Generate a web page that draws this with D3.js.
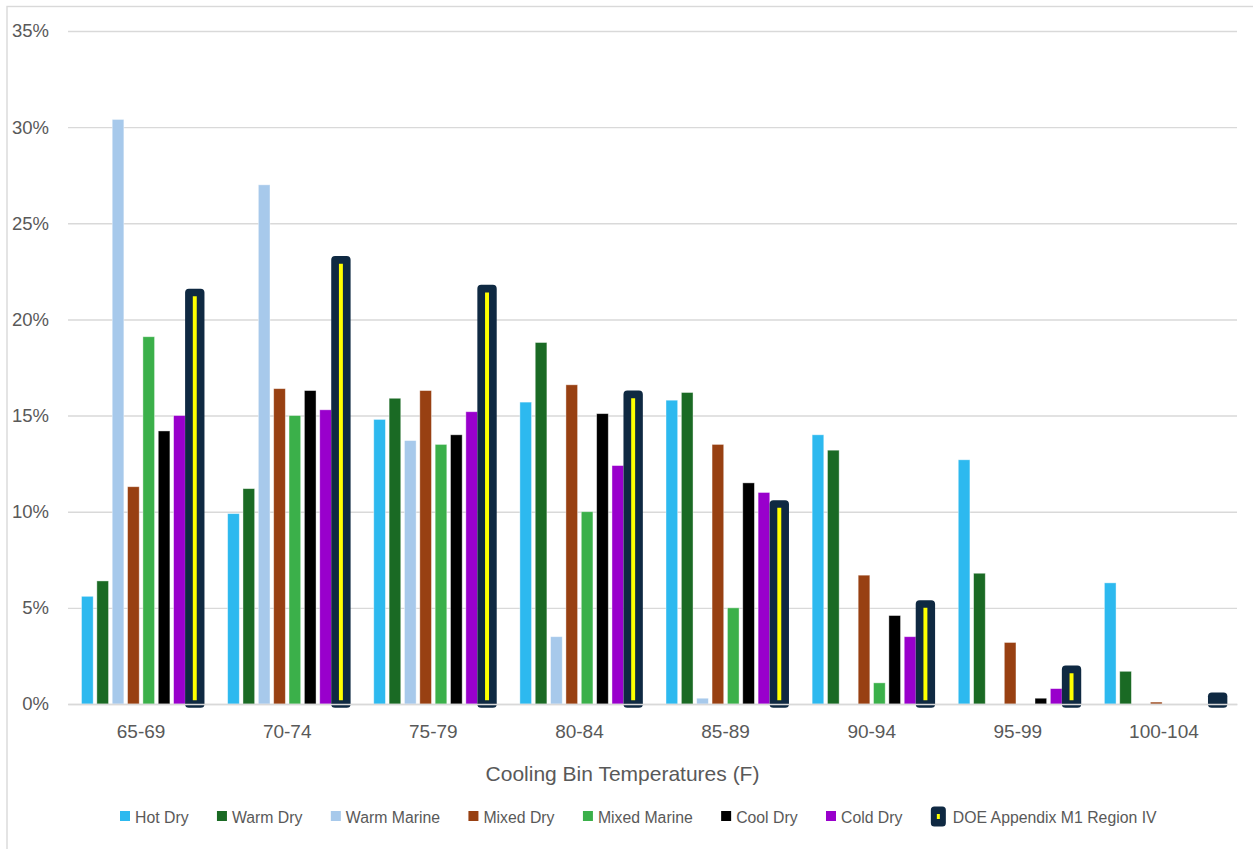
<!DOCTYPE html>
<html>
<head>
<meta charset="utf-8">
<script src="https://cdn.jsdelivr.net/npm/d3@7"></script>
<style>
  html, body { margin: 0; padding: 0; background: #ffffff; }
  svg { display: block; font-family: "Liberation Sans", Arial, sans-serif; }
</style>
</head>
<body>
<svg id="chart" width="1253" height="849"></svg>
<script>
// Share of cooling hours (%) in each temperature bin, by climate region
const categories = ["65-69", "70-74", "75-79", "80-84", "85-89", "90-94", "95-99", "100-104"];
const seriesNames = ["Hot Dry", "Warm Dry", "Warm Marine", "Mixed Dry", "Mixed Marine", "Cool Dry", "Cold Dry", "DOE Appendix M1 Region IV"];

const hotDry      = [5.6, 9.9, 14.8, 15.7, 15.8, 14.0, 12.7, 6.3];
const warmDry     = [6.4, 11.2, 15.9, 18.8, 16.2, 13.2, 6.8, 1.7];
const warmMarine  = [30.4, 27.0, 13.7, 3.5, 0.3, 0, 0, 0];
const mixedDry    = [11.3, 16.4, 16.3, 16.6, 13.5, 6.7, 3.2, 0.1];
const mixedMarine = [19.1, 15.0, 13.5, 10.0, 5.0, 1.1, 0, 0];
const coolDry     = [14.2, 16.3, 14.0, 15.1, 11.5, 4.6, 0.3, 0];
const coldDry     = [15.0, 15.3, 15.2, 12.4, 11.0, 3.5, 0.8, 0];
const doeRegionIV = [21.4, 23.1, 21.6, 16.1, 10.4, 5.2, 1.8, 0.4];

const yTicks = [0, 5, 10, 15, 20, 25, 30, 35];

const seriesValues = [hotDry, warmDry, warmMarine, mixedDry, mixedMarine, coolDry, coldDry, doeRegionIV];
const colors = ["#2db9ef", "#1a6a24", "#a7c9eb", "#984012", "#3bb04a", "#000000", "#9900cc", "#0f2942"];
const accent = "#ffff00";
const textColor = "#595959";
const gridColor = "#d9d9d9";

const svg = d3.select("#chart");

// outer chart frame
svg.append("rect")
  .attr("x", 7).attr("y", 6.5)
  .attr("width", 1300).attr("height", 900)
  .attr("fill", "#ffffff")
  .attr("stroke", gridColor).attr("stroke-width", 1.4);

const plotLeft = 68, plotRight = 1237, plotTop = 31, plotBottom = 704;

const x0 = d3.scaleBand().domain(categories).range([plotLeft, plotRight]);
const x1 = d3.scaleBand().domain(seriesNames).range([0, x0.bandwidth()])
  .paddingInner(0.24).paddingOuter(0.88);
const y = d3.scaleLinear().domain([0, 35]).range([plotBottom, plotTop]);

// value axis with gridlines
const yAxis = svg.append("g")
  .attr("transform", `translate(${plotLeft},0)`)
  .call(d3.axisLeft(y).tickValues(yTicks).tickFormat(d => d + "%")
    .tickSize(-(plotRight - plotLeft)).tickPadding(19));
yAxis.select(".domain").remove();
yAxis.selectAll(".tick line").attr("stroke", gridColor).attr("stroke-width", 1.4);
yAxis.selectAll(".tick text")
  .attr("fill", textColor).attr("font-size", 18.5)
  .attr("font-family", "Liberation Sans, Arial, sans-serif");

// bars
const rows = [];
categories.forEach((cat, ci) => {
  seriesNames.forEach((name, si) => {
    rows.push({ cat, name, si, value: seriesValues[si][ci] });
  });
});

const plain = rows.filter(d => d.si < 7 && d.value > 0);
svg.append("g").selectAll("rect")
  .data(plain)
  .join("rect")
  .attr("x", d => x0(d.cat) + x1(d.name))
  .attr("y", d => y(d.value))
  .attr("width", x1.bandwidth())
  .attr("height", d => y(0) - y(d.value))
  .attr("fill", d => colors[d.si])
  .attr("stroke", "rgba(255,255,255,0.5)")
  .attr("stroke-width", 0.8);

const doeRows = rows.filter(d => d.si === 7);
svg.append("g").selectAll("rect")
  .data(doeRows)
  .join("rect")
  .attr("x", d => x0(d.cat) + x1(d.name))
  .attr("y", d => y(d.value))
  .attr("width", x1.bandwidth())
  .attr("height", d => y(0) - y(d.value))
  .attr("fill", accent)
  .attr("stroke", colors[7])
  .attr("stroke-width", 7.7)
  .attr("stroke-linejoin", "round");

// category axis, drawn over the bars
const xAxis = svg.append("g")
  .attr("transform", `translate(0,${plotBottom})`)
  .call(d3.axisBottom(x0).tickSize(0).tickSizeOuter(0).tickPadding(20.5));
xAxis.select(".domain").attr("stroke", gridColor).attr("stroke-width", 1.4);
xAxis.selectAll(".tick text")
  .attr("fill", textColor).attr("font-size", 19)
  .attr("font-family", "Liberation Sans, Arial, sans-serif");

// axis title
svg.append("text")
  .attr("x", 622.5).attr("y", 781)
  .attr("text-anchor", "middle")
  .attr("fill", textColor).attr("font-size", 21)
  .text("Cooling Bin Temperatures (F)");

// legend
const legend = svg.append("g");
let lx = 120;
const legendBase = 822.5;
seriesNames.forEach((name, si) => {
  let tx;
  if (si === 7) {
    legend.append("rect")
      .attr("x", lx + 3.5).attr("y", 810)
      .attr("width", 8).attr("height", 13)
      .attr("fill", colors[7]).attr("stroke", colors[7])
      .attr("stroke-width", 7).attr("stroke-linejoin", "round");
    legend.append("rect")
      .attr("x", lx + 6).attr("y", 814)
      .attr("width", 3).attr("height", 5)
      .attr("fill", accent);
    tx = lx + 22;
  } else {
    legend.append("rect")
      .attr("x", lx).attr("y", 811)
      .attr("width", 10).attr("height", 10)
      .attr("fill", colors[si]);
    tx = lx + 15;
  }
  const t = legend.append("text")
    .attr("x", tx).attr("y", legendBase)
    .attr("fill", textColor).attr("font-size", 15.8)
    .text(name);
  lx = tx + t.node().getComputedTextLength() + 28.4;
});
</script>
</body>
</html>
